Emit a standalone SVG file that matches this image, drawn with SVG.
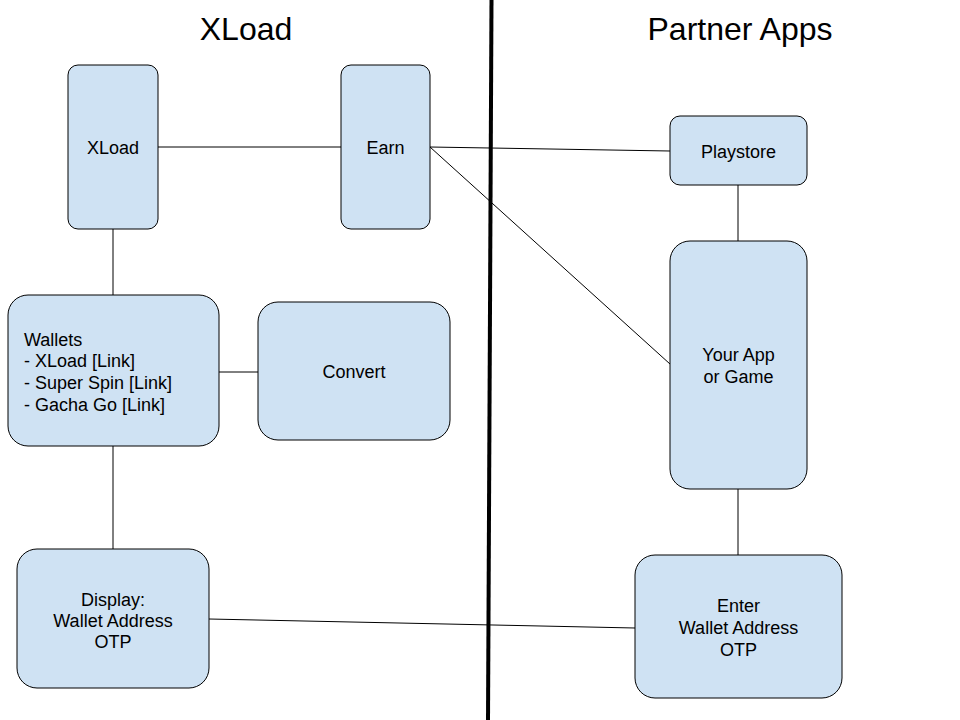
<svg xmlns="http://www.w3.org/2000/svg" width="960" height="720" viewBox="0 0 960 720">
<style>
.n{fill:#cfe2f3;stroke:#000;stroke-width:1}
.t{font-family:"Liberation Sans",Arial,sans-serif;font-size:18px;fill:#000}
.c{text-anchor:middle}
.h{font-family:"Liberation Sans",Arial,sans-serif;font-size:32px;fill:#000;text-anchor:middle}
.e{stroke:#000;stroke-width:1;fill:none}
</style>
<rect width="960" height="720" fill="#fff"/>
<text class="h" x="246" y="40">XLoad</text>
<text class="h" x="740" y="40">Partner Apps</text>
<g id="connectors">
<line class="e" x1="158" y1="147" x2="341" y2="147"/>
<line class="e" x1="113" y1="229" x2="113" y2="295"/>
<line class="e" x1="219" y1="372" x2="258" y2="372"/>
<line class="e" x1="113" y1="446" x2="113" y2="549"/>
<line class="e" x1="430" y1="147" x2="670" y2="151"/>
<line class="e" x1="430" y1="147" x2="670" y2="364"/>
<line class="e" x1="738" y1="185" x2="738" y2="241"/>
<line class="e" x1="738" y1="489" x2="738" y2="555"/>
<line class="e" x1="209" y1="619" x2="635" y2="628"/>
</g>
<line id="divider" x1="491.5" y1="0" x2="488" y2="720" stroke="#000" stroke-width="4"/>
<g id="xload"><rect class="n" x="68" y="65" width="90" height="164" rx="10"/><text class="t c" x="113" y="154">XLoad</text></g>
<g id="earn"><rect class="n" x="341" y="65" width="89" height="164" rx="10"/><text class="t c" x="385.5" y="154">Earn</text></g>
<g id="wallets"><rect class="n" x="8" y="295" width="211" height="151" rx="20"/>
<text class="t" x="24" y="345.5">Wallets</text>
<text class="t" x="24" y="367.2">- XLoad [Link]</text>
<text class="t" x="24" y="389">- Super Spin [Link]</text>
<text class="t" x="24" y="410.8">- Gacha Go [Link]</text></g>
<g id="convert"><rect class="n" x="258" y="302" width="192" height="138" rx="20"/><text class="t c" x="354" y="378.3">Convert</text></g>
<g id="display"><rect class="n" x="17" y="549" width="192" height="139" rx="20"/>
<text class="t c" x="113" y="605.5">Display:</text>
<text class="t c" x="113" y="627">Wallet Address</text>
<text class="t c" x="113" y="648">OTP</text></g>
<g id="playstore"><rect class="n" x="670" y="116" width="137" height="69" rx="10"/><text class="t c" x="738.5" y="157.7">Playstore</text></g>
<g id="yourapp"><rect class="n" x="670" y="241" width="137" height="248" rx="20"/>
<text class="t c" x="738.5" y="361">Your App</text>
<text class="t c" x="738.5" y="382.7">or Game</text></g>
<g id="enter"><rect class="n" x="635" y="555" width="207" height="143" rx="20"/>
<text class="t c" x="738.5" y="612">Enter</text>
<text class="t c" x="738.5" y="634">Wallet Address</text>
<text class="t c" x="738.5" y="655.5">OTP</text></g>
</svg>
